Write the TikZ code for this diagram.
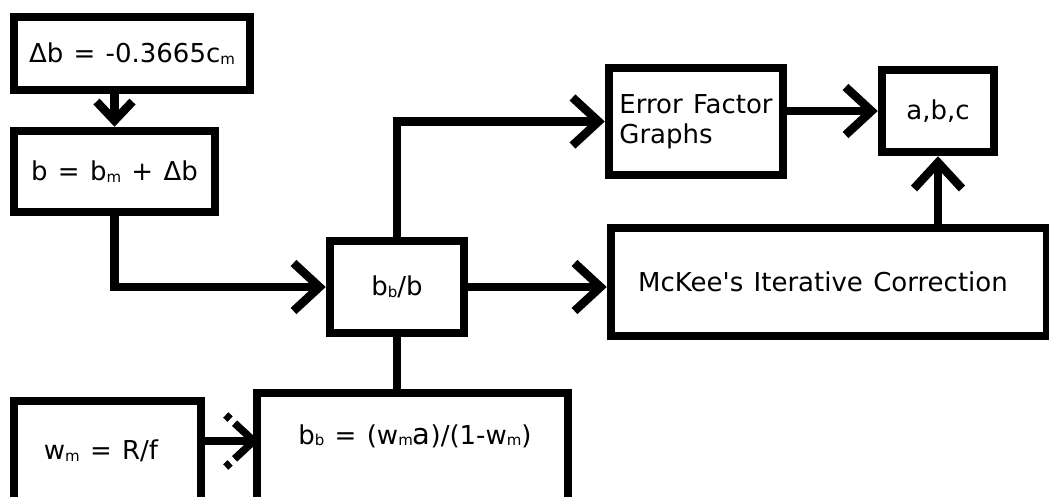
\documentclass[tikz,border=0pt]{standalone}
\usepackage{fontspec}
\setmainfont{DejaVu Sans}[WordSpace=1.25]
\usetikzlibrary{arrows.meta,calc}
% small lowered subscript letter
\newcommand{\lo}[1]{\raisebox{-1.5pt}{\fontsize{15}{15}\selectfont #1}}

\begin{document}
\begin{tikzpicture}[x=1pt,y=-1pt,
  box/.style={draw, line width=8.5pt, inner sep=0pt, font=\fontsize{26}{30}\selectfont},
  lbl/.style={inner sep=0pt, font=\fontsize{26}{30}\selectfont},
  conn/.style={line width=8.5pt},
  arr/.style={conn, -{Straight Barb[length=26pt 0 0,width=48pt 0 0]}},
  shortarr/.style={conn, -{Straight Barb[length=19pt 0 0,width=36pt 0 0]}},
  dbarb/.style={line width=7.5pt, dash pattern=on 6pt off 6pt on 40pt}]

\useasboundingbox (0,0) rectangle (1049,496);
\fill[white] (0,0) rectangle (1049,496);
\clip (0,0) rectangle (1049,496);

% boxes
\node[box, minimum width=236pt, minimum height=73pt] (d) at (132,53.5) {Δb = -0.3665c\lo{m}};
\node[box, minimum width=201pt, minimum height=81pt] (bx) at (114.5,171.5) {b = b\lo{m} + Δb};
\node[box, minimum width=134pt, minimum height=92pt] (r) at (397,287) {b\lo{b}/b};
\node[box, minimum width=174pt, minimum height=107pt, align=left] (ef) at (696,121.5) {Error Factor\\Graphs};
\node[box, minimum width=112pt, minimum height=82pt] (abc) at (938,111) {a,b,c};
\node[box, minimum width=436pt, minimum height=108pt] (mk) at (829,282) {};
\node[lbl, anchor=west] (mkt) at (638,282) {McKee\textquotesingle s Iterative Correction};
\node[box, minimum width=187pt, minimum height=122pt] (wm) at (107.5,462) {};
\node[lbl] (wmt) at (101,451) {w\lo{m} = R/f};
\node[box, minimum width=311pt, minimum height=128pt] (bbx) at (412.5,457) {};
\node[lbl] (bbt) at (415,436) {b\lo{b} = (w\lo{m}{\fontsize{29}{30}\selectfont a})/(1-w\lo{m})};

% connectors
\draw[shortarr] (d.south -| bx.north) -- (bx.north);
\draw[arr] (bx.south) |- (r.west);
\draw[arr] (r.north) |- (ef.west);
\draw[arr] (r.east) -- (r.east -| mk.west);
\draw[arr] (abc.west -| ef.east) -- (abc.west);
\draw[arr] (mk.north -| abc.south) -- (abc.south);
\draw[conn] (r.south) -- (r.south |- bbx.north);

% link with broken arrow head
\coordinate (wa) at ($(wm.east)+(0,-21)$);
\coordinate (tipw) at (wa -| bbx.west);
\draw[conn] (wa) -- (tipw);
\draw[dbarb] ($(tipw)+(-27,-26)$) -- ($(tipw)+(1,0)$);
\draw[dbarb] ($(tipw)+(-27,26)$) -- ($(tipw)+(1,0)$);
\end{tikzpicture}
\end{document}
